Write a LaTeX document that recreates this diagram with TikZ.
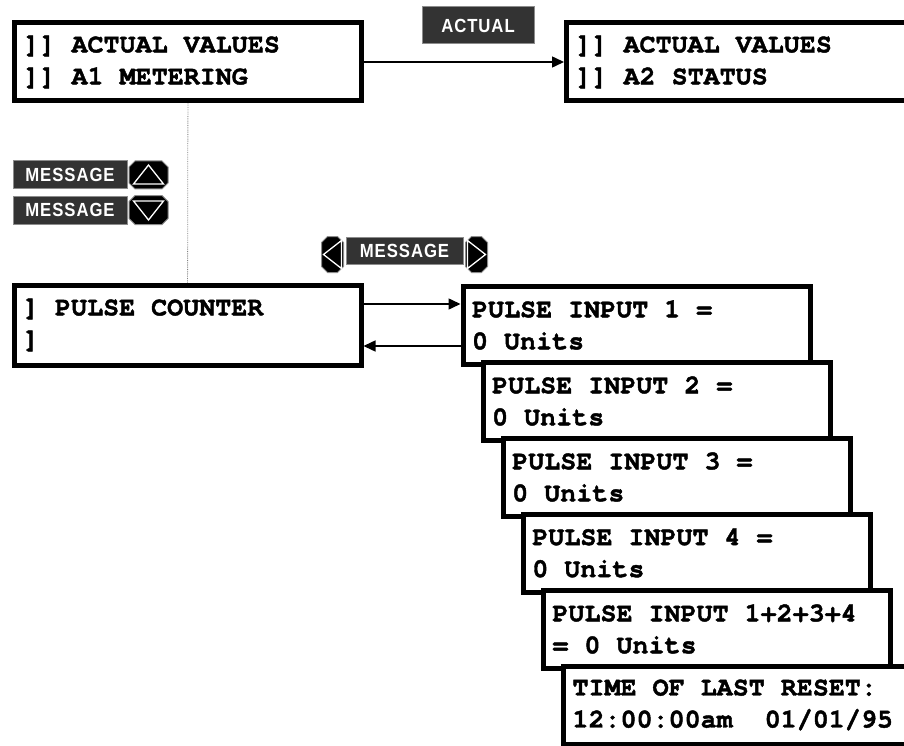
\documentclass[tikz,border=0pt]{standalone}
\usepackage{fontspec}
\setmainfont{Liberation Serif}
\newfontfamily\lcdfont{TeX Gyre Cursor}[BoldFeatures={FakeBold=1.6}]
\newfontfamily\keyfont{Liberation Sans}[FakeStretch=0.88, LetterSpace=5]
\usepackage{xcolor}
\usetikzlibrary{arrows.meta,positioning}
\definecolor{keyfill}{HTML}{333333}
\definecolor{keyline}{HTML}{8C8C8C}

% octagonal key cap round a named button node
\newcommand\keycap[1]{%
  \filldraw[draw=keyline, fill=black, line width=1pt]
    ([xshift=6pt]#1.north west) -- ([xshift=-6pt]#1.north east)
    -- ([yshift=-6pt]#1.north east) -- ([yshift=6pt]#1.south east)
    -- ([xshift=-6pt]#1.south east) -- ([xshift=6pt]#1.south west)
    -- ([yshift=6pt]#1.south west) -- ([yshift=-6pt]#1.north west) -- cycle;}

\begin{document}
\begin{tikzpicture}[x=1pt, y=-1pt,
  lcd/.style = {draw, fill=white, line width=5pt, minimum width=347pt,
                minimum height=78pt, text width=329pt, inner xsep=9pt,
                inner ysep=0pt, align=flush left,
                font=\lcdfont\bfseries\fontsize{26.7}{32}\selectfont},
  key/.style = {draw=keyline, fill=keyfill, line width=1pt, text=white,
                minimum width=114pt, minimum height=28pt, inner sep=0pt,
                font=\keyfont\bfseries\fontsize{19}{19}\selectfont},
  btn/.style = {inner sep=0pt, outer sep=0pt},
  tri/.style = {draw=white, line width=1.3pt, line join=miter},
  arr/.style = {-{Triangle[length=12pt,width=11pt]}, line width=1.5pt},
]
\clip (0,0) rectangle (904,746);

\node[lcd] (a1) at (188,62) {]] ACTUAL VALUES\\]] A1 METERING};
\node[lcd, right=200pt of a1] (a2) {]] ACTUAL VALUES\\]] A2 STATUS};
\node[key, minimum width=112pt, minimum height=37pt] (actual) at (478,25.5) {ACTUAL};
\draw[arr] (a1) -- (a2);

\node[lcd, minimum height=80pt] (pc) at (187.5,325) {] PULSE COUNTER\\]};
\draw[densely dotted, gray, line width=0.8pt] (a1) -- (pc);

% message up / down keys
\node[key] (msgup) at (70,175) {MESSAGE};
\node[btn, minimum width=39pt, minimum height=28pt, right=1.5pt of msgup] (btnup) {};
\keycap{btnup}
\draw[tri] ([shift={(0,-10)}]btnup.center) -- ++(15,19) -- ++(-30,0) -- cycle;
\node[key, below=6pt of msgup] (msgdn) {MESSAGE};
\node[btn, minimum width=39pt, minimum height=29pt, right=1.5pt of msgdn] (btndn) {};
\keycap{btndn}
\draw[tri] ([shift={(0,10)}]btndn.center) -- ++(15,-19) -- ++(-30,0) -- cycle;

% message left / right key
\node[key, minimum width=117pt, minimum height=27pt] (msglr) at (404.5,250.5) {MESSAGE};
\node[btn, minimum width=22pt, minimum height=36pt, anchor=north east]
  (btnl) at ([xshift=-2pt]msglr.north west) {};
\keycap{btnl}
\draw[tri] ([shift={(-9,0)}]btnl.center) -- ++(18,-14) -- ++(0,28) -- cycle;
\node[btn, minimum width=22pt, minimum height=36pt, anchor=north west]
  (btnr) at ([xshift=2pt]msglr.north east) {};
\keycap{btnr}
\draw[tri] ([shift={(9,0)}]btnr.center) -- ++(-18,-14) -- ++(0,28) -- cycle;

% pulse input pages
\node[lcd, right=97pt of pc] (p1) {PULSE INPUT 1 =\\0 Units};
\draw[arr] ([yshift=21pt]pc.east) -- ([yshift=21pt]p1.west);
\draw[arr] ([yshift=-21pt]p1.west) -- ([yshift=-21pt]pc.east);

\node[lcd, anchor=north west, xshift=20.1pt, yshift=7pt] (p2) at (p1.south west)
  {PULSE INPUT 2 =\\0 Units};
\node[lcd, anchor=north west, xshift=20.1pt, yshift=7pt] (p3) at (p2.south west)
  {PULSE INPUT 3 =\\0 Units};
\node[lcd, anchor=north west, xshift=20.1pt, yshift=7pt] (p4) at (p3.south west)
  {PULSE INPUT 4 =\\0 Units};
\node[lcd, anchor=north west, xshift=20.1pt, yshift=7pt] (p5) at (p4.south west)
  {PULSE INPUT 1+2+3+4\\= 0 Units};
\node[lcd, anchor=north west, xshift=20.1pt, yshift=7pt] (p6) at (p5.south west)
  {TIME OF LAST RESET:\\12:00:00am\ \ 01/01/95};

\end{tikzpicture}
\end{document}
